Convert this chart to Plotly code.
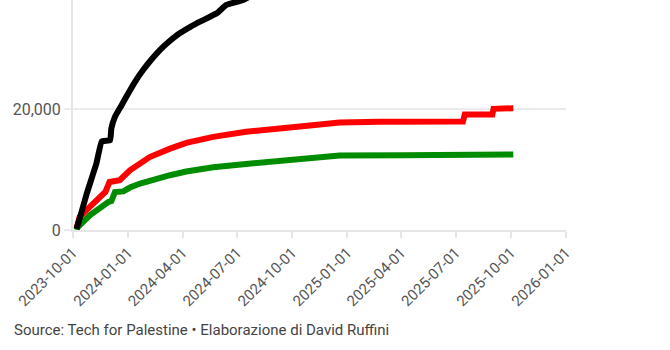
import plotly.graph_objects as go

# Black series (total)
black_dates = ["2023-10-07", "2023-10-15", "2023-10-24", "2023-11-09", "2023-11-18", "2023-12-02",
               "2023-12-04", "2023-12-10", "2023-12-20", "2023-12-29", "2024-01-12", "2024-01-26",
               "2024-02-10", "2024-02-23", "2024-03-10", "2024-03-27", "2024-04-14", "2024-04-30",
               "2024-05-28", "2024-06-13", "2024-07-11", "2024-08-15", "2024-10-01", "2025-01-01",
               "2025-03-18", "2025-04-01", "2025-07-01", "2025-08-01", "2025-09-01", "2025-10-05"]
black_vals = [200, 2900, 6050, 11030, 14700, 14900, 16840, 18770, 20500, 22100, 24500, 26530,
              28400, 29850, 31300, 32620, 33700, 34550, 35950, 37330, 38150, 40000, 41700, 45550,
              49550, 50400, 56650, 60250, 63550, 67100]

# Red series
red_dates = ["2023-10-07", "2023-10-12", "2023-10-29", "2023-11-15", "2023-11-20", "2023-11-24",
             "2023-12-01", "2023-12-18", "2024-01-04", "2024-01-21", "2024-02-06", "2024-03-11",
             "2024-04-07", "2024-05-22", "2024-07-16", "2024-09-10", "2024-11-05", "2024-12-19",
             "2025-02-24", "2025-07-13", "2025-07-16", "2025-08-31", "2025-09-02", "2025-10-05"]
red_vals = [300, 2160, 3820, 5480, 6100, 6300, 7970, 8250, 9900, 11000, 12100, 13500,
            14450, 15450, 16280, 16840, 17390, 17840, 17940, 18000, 19150, 19150, 20100, 20200]

# Green series
green_dates = ["2023-10-07", "2023-10-09", "2023-10-29", "2023-11-15", "2023-11-29", "2023-12-04",
               "2023-12-10", "2023-12-24", "2024-01-04", "2024-01-21", "2024-02-12", "2024-03-11",
               "2024-04-07", "2024-05-22", "2024-07-16", "2024-09-10", "2024-11-05", "2024-12-19",
               "2025-04-01", "2025-07-12", "2025-07-20", "2025-10-05"]
green_vals = [0, 500, 2440, 3820, 4650, 4800, 6300, 6400, 7040, 7700, 8370, 9090,
              9700, 10400, 10950, 11500, 11950, 12350, 12400, 12400, 12500, 12520]

x_ticks = ["2023-10-01", "2024-01-01", "2024-04-01", "2024-07-01", "2024-10-01", "2025-01-01",
           "2025-04-01", "2025-07-01", "2025-10-01", "2026-01-01"]
source_text = "Source: Tech for Palestine • Elaborazione di David Ruffini"

fig = go.Figure()
for d, v, c, shp in [(green_dates, green_vals, "#008c00", "linear"),
                     (red_dates, red_vals, "#ff0000", "linear"),
                     (black_dates, black_vals, "#000000", "spline")]:
    line = dict(color=c, width=6, shape=shp)
    if shp == "spline":
        line["smoothing"] = 0.3
    fig.add_trace(go.Scatter(x=d, y=v, mode="lines", line=line,
                             hoverinfo="skip", showlegend=False))

font_family = "Roboto"
fig.update_layout(
    width=670, height=350,
    margin=dict(l=73, r=104, t=0, b=120),
    paper_bgcolor="white", plot_bgcolor="white",
    font=dict(family=font_family, size=15, color="#555555"),
    xaxis=dict(
        type="date", range=["2023-10-01", "2026-01-01"],
        tickmode="array", tickvals=x_ticks, ticktext=x_ticks,
        tickangle=-45, showgrid=False,
        showline=True, linecolor="#e6e6e6", linewidth=2,
        ticks="outside", ticklen=6, tickcolor="#e6e6e6", tickwidth=2,
        tickfont=dict(size=15, color="#555555"),
        zeroline=False,
    ),
    yaxis=dict(
        range=[0, 38150], tickmode="array", tickvals=[0, 20000, 40000],
        ticktext=["0", "20,000", "40,000"],
        showgrid=True, gridcolor="#ebebeb", gridwidth=2,
        showline=True, linecolor="#e6e6e6", linewidth=2,
        ticks="outside", ticklen=7, tickcolor="#ebebeb", tickwidth=2,
        tickfont=dict(size=16, color="#555555"),
        zeroline=False,
    ),
    annotations=[dict(
        text=source_text, xref="paper", yref="paper",
        x=(12 - 73) / 493.0, y=(229.7 - 330) / 229.7,
        xanchor="left", yanchor="middle", showarrow=False,
        font=dict(family=font_family, size=15, color="#444444"),
    )],
)

fig.write_html("out.html")
